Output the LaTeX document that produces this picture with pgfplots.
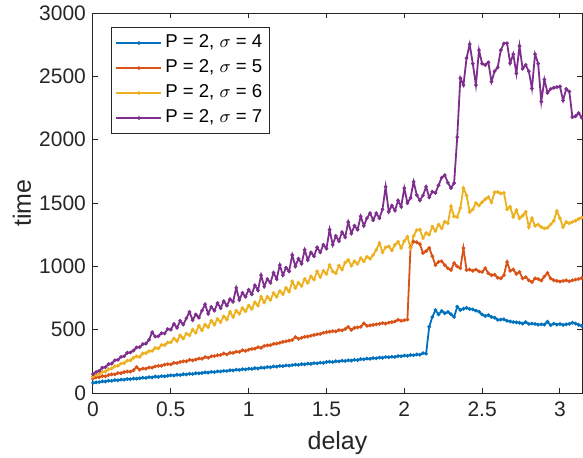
\documentclass[border=0pt]{standalone}
\usepackage{pgfplots}
\usepackage{pgfplotstable}
\pgfplotsset{compat=1.18}
\usepackage{fontspec}
\setmainfont{Liberation Sans}
\definecolor{mblue}{rgb}{0,0.447,0.741}
\definecolor{morange}{rgb}{0.85,0.325,0.098}
\definecolor{myellow}{rgb}{0.929,0.694,0.125}
\definecolor{mpurple}{rgb}{0.494,0.184,0.556}
\definecolor{axgray}{rgb}{0.15,0.15,0.15}
\pgfplotstableread{
x b o y p
0.00 80 115 130 148
0.02 84 124 143 166
0.04 86 125 150 175
0.06 92 134 168 200
0.08 90 132 170 204
0.10 97 142 188 228
0.12 96 148 194 232
0.14 102 147 212 258
0.16 100 158 215 262
0.18 106 156 232 285
0.20 105 165 236 290
0.22 110 170 256 318
0.24 109 168 258 320
0.26 114 180 278 335
0.28 113 205 290 360
0.30 116 184 285 362
0.32 121 193 312 386
0.34 119 192 315 390
0.36 125 202 330 420
0.38 123 200 332 480
0.40 130 210 355 445
0.42 127 214 352 448
0.44 133 215 380 472
0.46 131 224 378 470
0.48 136 228 398 505
0.50 140 226 400 500
0.52 138 238 430 545
0.54 144 236 410 515
0.56 142 245 455 570
0.58 148 250 430 540
0.60 146 250 470 590
0.62 152 262 455 640
0.64 150 258 500 575
0.66 156 264 475 620
0.68 155 272 530 595
0.70 158 270 495 650
0.72 163 284 540 700
0.74 161 278 520 625
0.76 167 290 570 680
0.78 165 292 540 650
0.80 171 298 585 710
0.82 170 300 560 670
0.84 175 312 605 725
0.86 174 304 580 690
0.88 180 318 640 740
0.90 178 316 600 720
0.92 184 326 650 830
0.94 182 324 625 735
0.96 188 338 670 790
0.98 186 332 645 760
1.00 192 342 690 815
1.02 190 348 665 780
1.04 196 350 715 850
1.06 194 362 690 810
1.08 200 356 760 930
1.10 199 372 715 840
1.12 205 376 760 900
1.14 203 378 735 870
1.16 210 388 790 950
1.18 208 390 760 900
1.20 214 396 805 1010
1.22 212 404 780 930
1.24 218 408 830 990
1.26 216 414 800 960
1.28 220 418 880 1090
1.30 224 442 830 1000
1.32 222 428 870 1060
1.34 228 436 845 1020
1.36 226 444 900 1130
1.38 232 446 870 1050
1.40 230 452 920 1110
1.42 236 458 895 1080
1.44 234 464 960 1150
1.46 240 466 915 1110
1.48 238 476 965 1170
1.50 245 480 940 1140
1.52 247 484 1010 1290
1.54 244 488 960 1170
1.56 251 486 945 1240
1.58 249 497 1005 1200
1.60 255 494 975 1270
1.62 253 505 1030 1230
1.64 258 522 1050 1350
1.66 256 498 1005 1260
1.68 262 515 1040 1320
1.70 260 518 1020 1290
1.72 268 522 1065 1395
1.74 266 550 1040 1320
1.76 272 530 1075 1380
1.78 270 534 1060 1420
1.80 276 538 1090 1365
1.82 274 542 1130 1420
1.84 280 545 1184 1380
1.86 278 552 1110 1450
1.88 284 548 1150 1628
1.90 282 556 1157 1431
1.92 286 560 1125 1480
1.94 285 565 1170 1440
1.96 292 578 1194 1520
1.98 290 570 1145 1470
2.00 296 575 1200 1618
2.02 294 580 1234 1500
2.04 300 1150 1144 1540
2.06 298 1195 1240 1668
2.08 304 1190 1286 1563
2.10 302 1175 1290 1520
2.12 315 1105 1223 1560
2.14 310 1120 1263 1628
2.16 523 1145 1250 1545
2.18 600 1080 1313 1589
2.20 655 1010 1280 1580
2.22 620 1036 1330 1640
2.24 648 1040 1300 1700
2.26 630 1010 1352 1720
2.28 640 985 1340 1660
2.30 622 971 1473 1618
2.32 600 1026 1394 1657
2.34 681 1000 1389 2020
2.36 655 985 1460 2486
2.38 665 1144 1618 2431
2.40 672 971 1560 2644
2.42 663 975 1429 2754
2.44 660 965 1450 2600
2.46 650 975 1500 2431
2.48 642 960 1480 2707
2.50 620 955 1507 2600
2.52 608 986 1530 2590
2.54 615 945 1547 2610
2.56 600 930 1505 2457
2.58 595 935 1585 2540
2.60 578 910 1587 2570
2.62 580 905 1575 2707
2.64 582 930 1580 2760
2.66 570 1034 1450 2762
2.68 565 965 1470 2604
2.70 560 975 1390 2675
2.72 558 940 1444 2523
2.74 555 955 1380 2739
2.76 548 905 1400 2560
2.78 560 915 1430 2590
2.80 545 890 1310 2540
2.82 548 876 1380 2405
2.84 545 905 1320 2675
2.86 540 900 1330 2600
2.88 542 888 1310 2300
2.90 540 920 1300 2475
2.92 563 947 1305 2370
2.94 535 905 1330 2400
2.96 548 890 1360 2410
2.98 540 885 1436 2415
3.00 545 880 1380 2420
3.02 538 885 1310 2310
3.04 542 890 1350 2400
3.06 545 882 1340 2380
3.08 555 890 1350 2178
3.10 548 895 1360 2185
3.12 538 900 1375 2210
3.14 530 908 1385 2175
}\data
\begin{document}
\begin{tikzpicture}
\begin{axis}[
  name=ax,
  scale only axis,
  width=244.5pt, height=190pt,
  xmin=0, xmax=3.1416, ymin=0, ymax=3000,
  xtick={0,0.5,1,1.5,2,2.5,3},
  ytick={0,500,1000,1500,2000,2500,3000},
  xticklabels={0,0.5,1,1.5,2,2.5,3},
  scaled ticks=false,
  /pgf/number format/1000 sep={},
  /pgf/number format/assume math mode=true,
  tick align=inside,
  major tick length=2.5pt,
  tick style={axgray, line width=0.5pt},
  axis line style={axgray, line width=0.5pt},
  tick label style={font=\fontsize{10.5}{12}\selectfont, text=axgray},
  xticklabel style={yshift=-1pt},
  label style={font=\fontsize{12.5}{15}\selectfont, text=axgray},
  xlabel={delay},
  ylabel={time},
  xlabel style={at={(axis description cs:0.5,-0.1316)}, anchor=center},
  ylabel style={at={(axis description cs:-0.1452,0.5)}, anchor=center},
  legend style={at={(axis description cs:0.0368,0.963)}, anchor=north west,
    font=\fontsize{9.3}{11}\selectfont, draw=axgray, line width=0.5pt,
    inner xsep=2pt, inner ysep=1.5pt, row sep=0pt,
    nodes={inner xsep=1.5pt, inner ysep=1.75pt, text height=6.8pt, text depth=2.2pt}},
  legend cell align=left,
  legend image code/.code={\draw[mark repeat=2,mark phase=2] plot coordinates {(0pt,0pt) (11.25pt,0pt) (22.5pt,0pt)};},
  every axis plot/.append style={line width=0.9pt, mark=*, mark size=0.4pt},
]
\addplot[color=mblue] table[x=x,y=b] {\data};
\addplot[color=morange] table[x=x,y=o] {\data};
\addplot[color=myellow] table[x=x,y=y] {\data};
\addplot[color=mpurple] table[x=x,y=p] {\data};
\legend{{P = 2, $\sigma$ = 4},{P = 2, $\sigma$ = 5},{P = 2, $\sigma$ = 6},{P = 2, $\sigma$ = 7}}
\end{axis}
\pgfresetboundingbox
\path[use as bounding box] ([xshift=-46.5pt,yshift=-32pt]ax.south west) rectangle ([xshift=0.5pt,yshift=6.5pt]ax.north east);
\end{tikzpicture}
\end{document}
